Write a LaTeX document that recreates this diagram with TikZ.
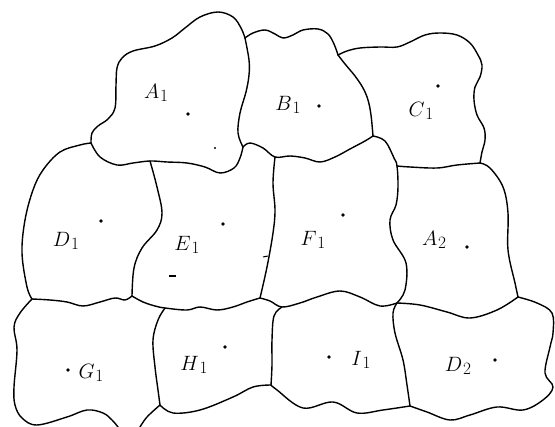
\documentclass[tikz,border=0pt]{standalone}
\newcommand\rlbl[2]{$#1$\kern0.04em\raisebox{-0.4ex}{\LARGE #2}}
\begin{document}
\begin{tikzpicture}[x=1pt,y=-1pt,
  edge/.style={line width=1.4pt,line cap=round,line join=round},
  lab/.style={font=\huge,inner sep=0pt},
  pt/.style={fill=black}]
\useasboundingbox (0,0) rectangle (555,427);
% junctions
\coordinate (JAD) at (91,143);
\coordinate (JABt) at (245,38);
\coordinate (JBCt) at (338,55);
\coordinate (JDEt) at (150,161);
\coordinate (JABb) at (243,147);
\coordinate (JEFt) at (275,157);
\coordinate (JBCF) at (373,136);
\coordinate (JCFA) at (397,166);
\coordinate (JCAr) at (480,163);
\coordinate (JDEG) at (132,296);
\coordinate (JEGH) at (165,308);
\coordinate (JEFH) at (260,298);
\coordinate (JFHI) at (282,307);
\coordinate (JFIA) at (397,303);
\coordinate (JADr) at (518,297);
\coordinate (JDG) at (32,299);
\coordinate (JHIb) at (271,385);
\coordinate (JGHb) at (160,405);
\coordinate (JIDb) at (410,406);
% A1 outer
\draw[edge] plot[smooth,tension=0.6] coordinates {(91,143) (92,133) (98,126) (108,119) (115,108) (116,85) (117,68) (122,58) (133,51) (155,46) (172,38) (185,28) (200,17) (218,12) (233,17) (241,28) (245,38)};
% A1/B1
\draw[edge] plot[smooth,tension=0.6] coordinates {(245,38) (249,60) (249,75) (246,92) (240,113) (238,133) (243,147)};
% B1 top
\draw[edge] plot[smooth,tension=0.6] coordinates {(245,38) (253,33) (265,30) (275,34) (283,38) (293,35) (303,30) (318,29) (328,34) (334,44) (338,55)};
% C1 outer
\draw[edge] plot[smooth,tension=0.6] coordinates {(338,55) (347,51) (360,48) (380,47) (397,47) (410,42) (425,35) (440,33) (457,35) (470,43) (478,55) (482,65) (480,77) (475,87) (474,100) (477,115) (484,128) (485,140) (482,152) (480,163)};
% B1/C1
\draw[edge] plot[smooth,tension=0.6] coordinates {(338,55) (345,64) (355,76) (363,88) (368,100) (371,115) (373,136)};
% B1 bottom
\draw[edge] plot[smooth,tension=0.6] coordinates {(243,147) (250,143) (263,148) (275,157) (290,156) (305,158) (320,162) (335,157) (350,149) (365,141) (373,136)};
% A1 bottom
\draw[edge] plot[smooth,tension=0.6] coordinates {(91,143) (100,157) (117,165) (133,163) (150,161) (167,162) (187,163) (205,167) (220,173) (234,168) (240,158) (243,147)};
% D1 outer
\draw[edge] plot[smooth,tension=0.6] coordinates {(91,143) (80,145) (60,152) (43,170) (33,190) (25,220) (22,253) (27,287) (32,299)};
% D1/E1
\draw[edge] plot[smooth,tension=0.6] coordinates {(150,161) (157,187) (162,213) (157,230) (142,248) (134,268) (132,296)};
% D1/G1
\draw[edge] plot[smooth,tension=0.6] coordinates {(32,299) (50,300) (67,302) (83,306) (100,302) (115,298) (125,300) (132,296)};
% E1/H1
\draw[edge] plot[smooth,tension=0.6] coordinates {(132,296) (143,302) (155,306) (165,308) (187,310) (200,307) (217,310) (233,307) (247,302) (260,298)};
% E1/F1
\draw[edge] plot[smooth,tension=0.6] coordinates {(275,157) (273,183) (275,210) (273,233) (267,267) (260,298)};
% F1/I1
\draw[edge] plot[smooth,tension=0.6] coordinates {(260,298) (270,301) (282,307) (300,303) (317,297) (340,291) (360,297) (380,306) (397,303)};
% H1/I1
\draw[edge] plot[smooth,tension=0.6] coordinates {(282,307) (274,316) (272,340) (272,365) (271,385)};
% G1/H1
\draw[edge] plot[smooth,tension=0.6] coordinates {(165,308) (158,320) (153,340) (155,367) (158,390) (160,405)};
% G1 outer
\draw[edge] plot[smooth,tension=0.6] coordinates {(32,299) (20,313) (14,327) (17,350) (14,387) (15,405) (22,418) (37,425) (67,417) (87,410) (103,413) (112,420) (118,427)};
% H1 bottom-left
\draw[edge] plot[smooth,tension=0.6] coordinates {(160,405) (147,417) (140,427)};
% H1 bottom
\draw[edge] plot[smooth,tension=0.6] coordinates {(160,405) (173,413) (200,410) (233,397) (253,387) (271,385)};
% I1 bottom
\draw[edge] plot[smooth,tension=0.6] coordinates {(271,385) (277,390) (303,408) (333,402) (357,413) (383,410) (410,406)};
% D2 bottom and right
\draw[edge] plot[smooth,tension=0.6] coordinates {(410,406) (427,412) (450,420) (470,415) (497,407) (523,410) (543,400) (553,387) (545,373) (550,347) (553,333) (552,313) (537,303) (518,297)};
% I1/D2
\draw[edge] plot[smooth,tension=0.6] coordinates {(397,303) (393,313) (395,333) (403,360) (407,385) (410,406)};
% A2/D2
\draw[edge] plot[smooth,tension=0.6] coordinates {(397,303) (420,305) (447,312) (470,318) (497,310) (518,297)};
% A2 right
\draw[edge] plot[smooth,tension=0.6] coordinates {(480,163) (490,168) (503,187) (508,213) (508,250) (515,283) (518,297)};
% F1/A2
\draw[edge] plot[smooth,tension=0.6] coordinates {(373,136) (385,141) (394,158) (397,166) (398,187) (396,205) (390,220) (393,240) (406,263) (405,290) (397,303)};
% C1 bottom
\draw[edge] plot[smooth,tension=0.6] coordinates {(397,166) (410,167) (437,168) (457,165) (480,163)};
% small marks
\draw[line width=1.3pt] (169,276) -- (176,276);
\draw[line width=1pt] (263,257) -- (268,256);
% dots
\foreach \p in {(188,114),(319,106),(438,86),(101,221),(223,224),(343,215),(467,247),(68,370),(225,347),(329,357),(495,360)}
  \fill[pt] \p circle (1.9);
\fill (215,148) circle (1.1);
% labels
\node[lab] (A1) at (156,93) {\rlbl{A}{1}};
\node[lab] (B1) at (288,105) {\rlbl{B}{1}};
\node[lab] (C1) at (421,111) {\rlbl{C}{1}};
\node[lab] (D1) at (66,241) {\rlbl{D}{1}};
\node[lab] (E1) at (187,245) {\rlbl{E}{1}};
\node[lab] (F1) at (313,240) {\rlbl{F}{1}};
\node[lab] (A2) at (434,240) {\rlbl{A}{2}};
\node[lab] (G1) at (91,373) {\rlbl{G}{1}};
\node[lab] (H1) at (194,365) {\rlbl{H}{1}};
\node[lab] (I1) at (361,360) {\rlbl{I}{1}};
\node[lab] (D2) at (458,366) {\rlbl{D}{2}};
\end{tikzpicture}
\end{document}
